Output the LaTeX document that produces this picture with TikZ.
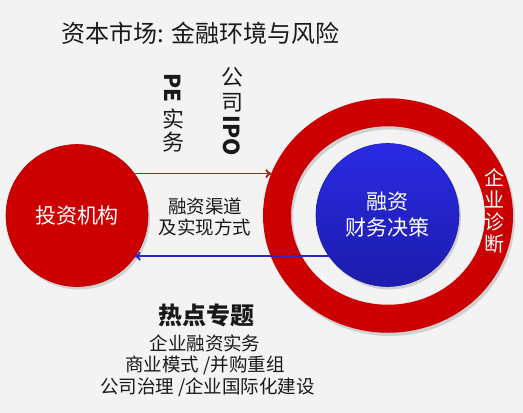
\documentclass[tikz,border=0pt]{standalone}
\usepackage{fontspec}
\setmainfont{Noto Sans CJK SC}
\usetikzlibrary{shapes.geometric,arrows.meta,calc}
\definecolor{bgc}{RGB}{243,243,243}
\definecolor{myred}{RGB}{204,0,0}
\definecolor{myblue}{RGB}{42,42,228}
\definecolor{mybluedark}{RGB}{28,28,172}
\definecolor{arrowblue}{RGB}{40,40,200}
\definecolor{arrowred}{RGB}{200,20,20}
\definecolor{txt}{RGB}{25,25,25}
\begin{document}
\begin{tikzpicture}[x=1pt,y=-1pt,
  fsz/.style 2 args={font=\fontsize{#1}{#2}\selectfont},
  bfsz/.style 2 args={font=\fontsize{#1}{#2}\selectfont\bfseries},
  label text/.style={text=txt, inner sep=0pt},
  conn/.style={line width=1.8pt, -{To[length=6pt,width=9pt]}}]
\useasboundingbox (0,0) rectangle (523,413);
\fill[bgc] (0,0) rectangle (523,413);
% shadows
\fill[black, opacity=0.14, even odd rule] (390,218.5) ellipse [x radius=125pt, y radius=117.5pt]
      (390,218.5) ellipse [x radius=97pt, y radius=89pt];
\fill[black, opacity=0.14] (79,218.5) circle [radius=71pt];
\fill[black, opacity=0.14] (389.5,218) circle [radius=71.5pt];
% shapes
\node[ellipse, minimum width=222pt, minimum height=206.5pt, inner sep=0pt,
      draw=myred, line width=28pt] (ring) at (388,215.5) {};
\node[circle, minimum size=142pt, inner sep=0pt, fill=myred, draw=myred!88!black,
      line width=0.6pt, text=white, fsz={21}{25}] (inv) at (77,215.5) {投资机构};
\node[circle, minimum size=143pt, inner sep=0pt, top color=myblue, bottom color=mybluedark,
      draw=mybluedark, line width=0.6pt, text=white, align=center, fsz={21}{26}] (fin) at (387.5,215) {融资\\财务决策};
% connectors
\draw[conn, arrowred] (inv.36) -- (inv.36 -| ring.160);
\draw[conn, arrowblue] (fin.215) -- (fin.215 -| inv.-36);
% ring label
\node[inner sep=0pt, text=white, align=center, fsz={20}{22}] (diag) at (494,211) {企\\业\\诊\\断};
% title
\node[label text, anchor=west, fsz={24}{28}] (title) at (61,33) {资本市场: 金融环境与风险};
% vertical labels
\node[label text, rotate=-90, bfsz={22}{22}] (pe) at (173,87.5) {PE};
\node[label text, align=center, fsz={22}{23}] (pewu) at (173,130.5) {实\\务};
\node[label text, align=center, fsz={22}{25}] (gs) at (232,89.5) {公\\司};
\node[label text, rotate=-90, bfsz={22}{22}] (ipo) at (232,136) {IPO};
% channel text
\node[label text, align=center, fsz={18.5}{21}] (chan) at (205,216.5) {融资渠道\\及实现方式};
% bottom block
\node[label text, bfsz={24}{28}] (hot) at (206,315) {热点专题};
\node[label text, fsz={18.5}{22}] (l1) at (205,343) {企业融资实务};
\node[label text, fsz={18.5}{22}] (l2) at (205,365) {商业模式 /并购重组};
\node[label text, fsz={18.5}{22}] (l3) at (207.5,387) {公司治理 /企业国际化建设};
\end{tikzpicture}
\end{document}
